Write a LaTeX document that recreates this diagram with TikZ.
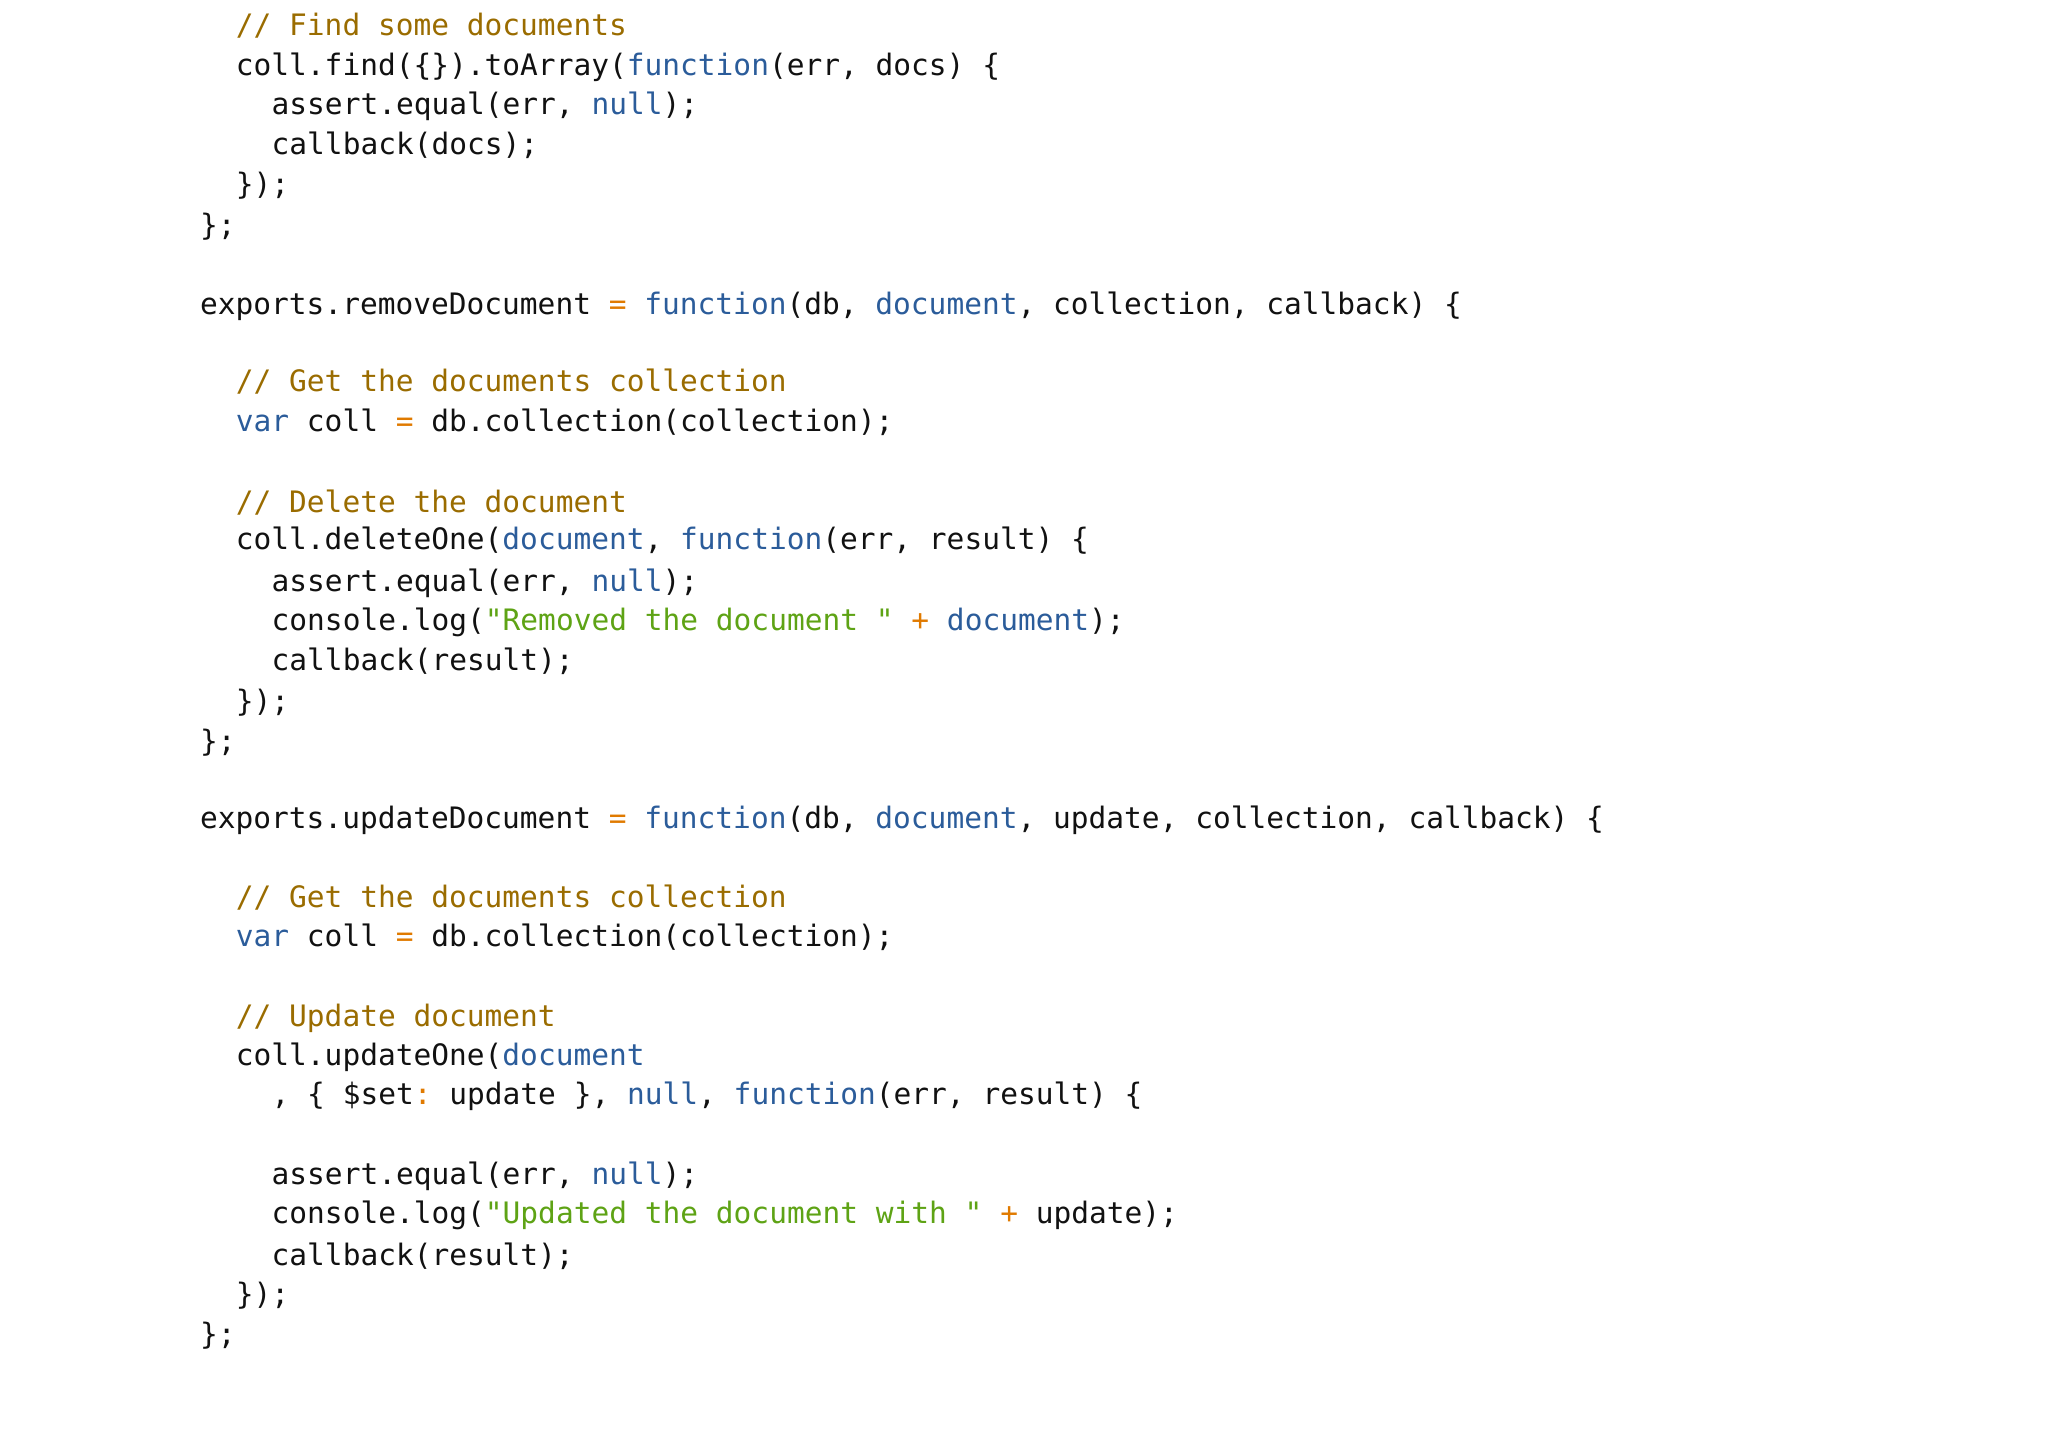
\documentclass[tikz,border=0pt]{standalone}
\usepackage{fontspec}
\setmonofont{DejaVu Sans Mono}
\definecolor{cm}{HTML}{9A6C00}
\definecolor{kw}{HTML}{2B5C9A}
\definecolor{st}{HTML}{5EA315}
\definecolor{op}{HTML}{E07A00}
\definecolor{tx}{HTML}{111111}
\newcommand\cK[1]{\textcolor{kw}{#1}}
\newcommand\cC[1]{\textcolor{cm}{#1}}
\newcommand\cS[1]{\textcolor{st}{#1}}
\newcommand\cO[1]{\textcolor{op}{#1}}
\begin{document}
\begin{tikzpicture}[x=1pt,y=-1pt,
  code/.style={anchor=base west,inner sep=0pt,text=tx,font=\ttfamily\fontsize{22.6}{26}\selectfont}]
\useasboundingbox (0,0) rectangle (1568,1108.6);
\def\a{153}\def\b{180.4}\def\c{207.8}
\node[code] (l1) at (\b,27) {\cC{// Find some documents}};
\node[code] (l2) at (\b,58) {coll.find(\{\}).toArray(\cK{function}(err, docs) \{};
\node[code] (l3) at (\c,88) {assert.equal(err, \cK{null});};
\node[code] (l4) at (\c,118) {callback(docs);};
\node[code] (l5) at (\b,149) {\});};
\node[code] (l6) at (\a,180) {\};};
\node[code] (l7) at (\a,241) {exports.removeDocument \cO{=} \cK{function}(db, \cK{document}, collection, callback) \{};
\node[code] (l8) at (\b,300) {\cC{// Get the documents collection}};
\node[code] (l9) at (\b,330) {\cK{var} coll \cO{=} db.collection(collection);};
\node[code] (l10) at (\b,392) {\cC{// Delete the document}};
\node[code] (l11) at (\b,421) {coll.deleteOne(\cK{document}, \cK{function}(err, result) \{};
\node[code] (l12) at (\c,453) {assert.equal(err, \cK{null});};
\node[code] (l13) at (\c,483) {console.log(\cS{"Removed the document "} \cO{+} \cK{document});};
\node[code] (l14) at (\c,513) {callback(result);};
\node[code] (l15) at (\b,545) {\});};
\node[code] (l16) at (\a,575) {\};};
\node[code] (l17) at (\a,634) {exports.updateDocument \cO{=} \cK{function}(db, \cK{document}, update, collection, callback) \{};
\node[code] (l18) at (\b,695) {\cC{// Get the documents collection}};
\node[code] (l19) at (\b,725) {\cK{var} coll \cO{=} db.collection(collection);};
\node[code] (l20) at (\b,786) {\cC{// Update document}};
\node[code] (l21) at (\b,816) {coll.updateOne(\cK{document}};
\node[code] (l22) at (\c,846) {, \{ \$set\cO{:} update \}, \cK{null}, \cK{function}(err, result) \{};
\node[code] (l23) at (\c,907) {assert.equal(err, \cK{null});};
\node[code] (l24) at (\c,937) {console.log(\cS{"Updated the document with "} \cO{+} update);};
\node[code] (l25) at (\c,969) {callback(result);};
\node[code] (l26) at (\b,999) {\});};
\node[code] (l27) at (\a,1029) {\};};
\end{tikzpicture}
\end{document}
